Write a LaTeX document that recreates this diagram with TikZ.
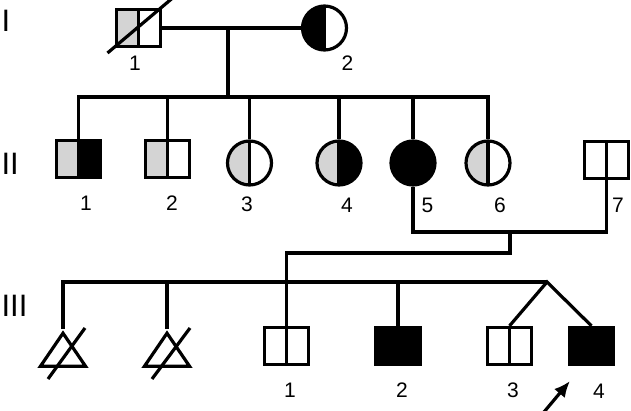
\documentclass[tikz,border=0pt]{standalone}
\usepackage{fontspec}
\setmainfont{Liberation Sans}
\usepackage{tikz}
\usetikzlibrary{arrows.meta,calc,positioning,shapes.geometric}
\definecolor{carrier}{gray}{0.83}

\tikzset{
  halves/.style 2 args={path picture={
    \fill[#1] (path picture bounding box.south west) rectangle (path picture bounding box.north);
    \fill[#2] (path picture bounding box.south) rectangle (path picture bounding box.north east);
    \draw[line width=3.2pt] (path picture bounding box.south) -- (path picture bounding box.north);}}
}

\begin{document}
\begin{tikzpicture}[x=1pt, y=-1pt, line width=3.2pt,
  male/.style={draw, rectangle, minimum width=44pt, minimum height=37pt, inner sep=0pt},
  female/.style={draw, circle, minimum size=44pt, inner sep=0pt},
  misc/.style={draw, isosceles triangle, isosceles triangle stretches, shape border rotate=90,
    minimum width=45pt, minimum height=33pt, inner sep=0pt, anchor=apex},
  num/.style={font=\fontsize{21}{24}\selectfont, inner sep=0pt},
  gen/.style={font=\fontsize{31}{35}\selectfont, inner sep=0pt, anchor=west}]

\useasboundingbox (0,0) rectangle (631,411);

% Generazioni
\node[gen] (g1) at (0,21) {I};
\node[gen] (g2) at (0,163.5) {II};
\node[gen] (g3) at (0,306) {III};

% Generation I
\node[male, halves={carrier}{white}] (i1) at (138.5,28) {};
\node[female, halves={black}{white}] (i2) at (324.5,28) {};
\draw (i1.center) ++(-31,25) -- ++(71,-60);
\draw (i1.east) -- (i2.west);
\node[num] (n-i1) at (135,63) {1};
\node[num] (n-i2) at (347.5,63) {2};

% Generation II
\node[male, halves={carrier}{black}] (ii1) at (78.5,159) {};
\node[male, halves={carrier}{white}] (ii2) at (167.5,159) {};
\node[female, halves={carrier}{white}] (ii3) at (249.5,163) {};
\node[female, halves={carrier}{black}] (ii4) at (339,163) {};
\node[female, fill=black] (ii5) at (413,163) {};
\node[female, halves={carrier}{white}] (ii6) at (488,163) {};
\node[male, halves={white}{white}] (ii7) at (606.5,160) {};

\coordinate (s2) at (228,97);
\draw (s2) -- (s2 |- i1.east);
\draw (ii1.north) |- (s2) -| (ii6.north);
\foreach \k in {ii2,ii3,ii4,ii5}
  \draw (\k.north) -- (\k.north |- s2);

\node[num] (n-ii1) at (86,203) {1};
\node[num] (n-ii2) at (172,203) {2};
\node[num] (n-ii3) at (247,204) {3};
\node[num] (n-ii4) at (347,205) {4};
\node[num] (n-ii5) at (427.5,205) {5};
\node[num] (n-ii6) at (500,205) {6};
\node[num] (n-ii7) at (618,205) {7};

% Generation III
\node[misc] (t1) at (63,329) {};
\node[misc] (t2) at (167,329) {};
\node[male, halves={white}{white}] (iii1) at (286.5,346) {};
\node[male, fill=black] (iii2) at (398,346) {};
\node[male, halves={white}{white}] (iii3) at (509.5,346) {};
\node[male, fill=black] (iii4) at (591.5,346) {};

\draw ($(t1.apex)+(-15,50)$) -- ($(t1.apex)+(22,-1)$);
\draw ($(t2.apex)+(-15,50)$) -- ($(t2.apex)+(23,-1)$);

\coordinate (m2) at (510,232);
\coordinate (d2) at (510,253);
\coordinate (tw) at (547,282);
\draw (ii5.south) |- (m2) -| (ii7.south);
\draw (m2) -- (d2) -| (iii1.north);
\draw (t1.apex) |- (tw);
\draw (t2.apex) -- (t2.apex |- tw);
\draw (iii2.north) -- (iii2.north |- tw);
\draw (iii3.north) -- (tw) -- (iii4.north);

\node[num] (n-iii1) at (290,390) {1};
\node[num] (n-iii2) at (402,390) {2};
\node[num] (n-iii3) at (513,390) {3};
\node[num] (n-iii4) at (599,391) {4};

% Probando
\draw[-{Latex[length=16pt,width=14pt]}] ($(iii4.south west)+(-24,46)$) -- ($(iii4.south west)+(2,15)$);

\end{tikzpicture}
\end{document}
